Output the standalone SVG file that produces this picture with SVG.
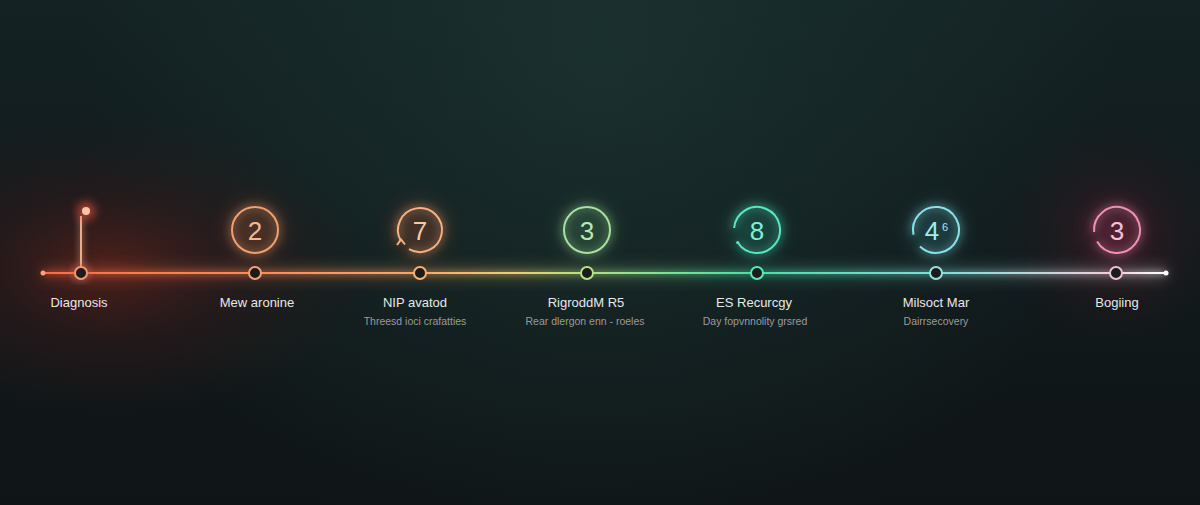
<svg xmlns="http://www.w3.org/2000/svg" width="1200" height="505" viewBox="0 0 1200 505">
<defs>
<linearGradient id="bg" x1="0" y1="0" x2="0" y2="1">
<stop offset="0" stop-color="#142224"/>
<stop offset="0.5" stop-color="#111a1c"/>
<stop offset="1" stop-color="#0f1416"/>
</linearGradient>
<radialGradient id="g-top" cx="600" cy="60" r="520" gradientUnits="userSpaceOnUse">
<stop offset="0" stop-color="#1e3a36" stop-opacity="0.6"/>
<stop offset="1" stop-color="#1e3a36" stop-opacity="0"/>
</radialGradient>
<radialGradient id="g-red" cx="0" cy="0" r="1" gradientUnits="userSpaceOnUse" gradientTransform="translate(110 268) scale(260 150)">
<stop offset="0" stop-color="#6a2418" stop-opacity="0.7"/>
<stop offset="0.5" stop-color="#42181a" stop-opacity="0.35"/>
<stop offset="1" stop-color="#3a1a14" stop-opacity="0"/>
</radialGradient>
<radialGradient id="g-pink" cx="1116" cy="235" r="110" gradientUnits="userSpaceOnUse">
<stop offset="0" stop-color="#4a1c2a" stop-opacity="0.55"/>
<stop offset="1" stop-color="#3a1820" stop-opacity="0"/>
</radialGradient>
<linearGradient id="line" x1="43" y1="0" x2="1166" y2="0" gradientUnits="userSpaceOnUse">
<stop offset="0" stop-color="#ff6a48"/>
<stop offset="0.19" stop-color="#ff8a58"/>
<stop offset="0.33" stop-color="#f8a868"/>
<stop offset="0.42" stop-color="#e8d070"/>
<stop offset="0.49" stop-color="#b0e088"/>
<stop offset="0.63" stop-color="#48e0a8"/>
<stop offset="0.8" stop-color="#80dcd8"/>
<stop offset="0.95" stop-color="#f0d0dc"/>
<stop offset="1" stop-color="#ffffff"/>
</linearGradient>
<filter id="glow" x="-50%" y="-50%" width="200%" height="200%">
<feGaussianBlur in="SourceGraphic" stdDeviation="4" result="b"/>
<feMerge><feMergeNode in="b"/><feMergeNode in="SourceGraphic"/></feMerge>
</filter>
<filter id="lineglow" filterUnits="userSpaceOnUse" x="0" y="150" width="1200" height="200">
<feGaussianBlur in="SourceGraphic" stdDeviation="3" result="b"/>
<feMerge><feMergeNode in="b"/><feMergeNode in="SourceGraphic"/></feMerge>
</filter>
<filter id="wide" filterUnits="userSpaceOnUse" x="0" y="150" width="1200" height="200">
<feGaussianBlur stdDeviation="8"/>
</filter>
<filter id="soft" x="-100%" y="-100%" width="300%" height="300%">
<feGaussianBlur stdDeviation="5"/>
</filter>
<filter id="haze" x="-100%" y="-100%" width="300%" height="300%">
<feGaussianBlur stdDeviation="10"/>
</filter>
</defs>
<style>
.lbl{font-family:"Liberation Sans",Arial,sans-serif;font-size:13px;fill:#e8e8e8;text-anchor:middle}
.sub{font-family:"Liberation Sans",Arial,sans-serif;font-size:10.5px;fill:#9a9c9c;text-anchor:middle}
.num{font-family:"Liberation Sans",Arial,sans-serif;font-size:26px;text-anchor:middle}
.big{fill:none;stroke-width:2}
.dot{fill:#1a1c1c;stroke-width:2}
.halo{opacity:0.22;filter:url(#haze)}
</style>
<rect width="1200" height="505" fill="url(#bg)"/>
<rect width="1200" height="505" fill="url(#g-top)"/>
<rect width="1200" height="505" fill="url(#g-red)"/>
<rect width="1200" height="505" fill="url(#g-pink)"/>

<g id="connectors">
<line x1="43" y1="273" x2="1166" y2="273" stroke="url(#line)" stroke-width="6" opacity="0.5" filter="url(#wide)"/>
<line x1="43" y1="273" x2="1166" y2="273" stroke="url(#line)" stroke-width="2.2" filter="url(#lineglow)"/>
<line x1="81" y1="216" x2="81" y2="267" stroke="#f8b89a" stroke-width="1.8" filter="url(#lineglow)"/>
<circle cx="43" cy="273" r="2.5" fill="#ffa080"/>
<circle cx="1166" cy="273" r="2.5" fill="#ffffff"/>
</g>

<g id="node-1">
<circle cx="86" cy="211" r="9" fill="#ff6040" opacity="0.6" filter="url(#soft)"/>
<circle cx="86" cy="211" r="4" fill="#ffc0a8"/>
<circle class="dot" cx="81" cy="273" r="6" stroke="#ff9070" filter="url(#glow)"/>
<text class="lbl" x="79" y="307">Diagnosis</text>
</g>

<g id="node-2">
<circle class="halo" cx="255" cy="230" r="28" fill="#e07040"/>
<circle class="big" cx="255" cy="230" r="23" stroke="#f0a070" filter="url(#glow)"/>
<text class="num" x="255" y="240" fill="#f4b890">2</text>
<circle class="dot" cx="255" cy="273" r="6" stroke="#f8a070"/>
<text class="lbl" x="257" y="307">Mew aronine</text>
</g>

<g id="node-3">
<circle class="halo" cx="420" cy="230" r="28" fill="#e06030"/>
<path class="big" d="M409,249.1 A22,22 0 1 0 400.9,241" stroke="#f8b080" filter="url(#glow)"/>
<path d="M397,245 L401,239.5 L405,244.5" fill="none" stroke="#f8b080" stroke-width="2"/>
<text class="num" x="420" y="240" fill="#f8c8a8">7</text>
<circle class="dot" cx="420" cy="273" r="6" stroke="#f8b070"/>
<text class="lbl" x="415" y="307">NIP avatod</text>
<text class="sub" x="415" y="325">Threesd ioci crafatties</text>
</g>

<g id="node-4">
<circle class="halo" cx="587" cy="230" r="27" fill="#60b070"/>
<circle class="big" cx="587" cy="230" r="23" stroke="#a8e0a0" filter="url(#glow)"/>
<text class="num" x="587" y="240" fill="#b8e8b0">3</text>
<circle class="dot" cx="587" cy="273" r="6" stroke="#b8e088"/>
<text class="lbl" x="586" y="307">RigroddM R5</text>
<text class="sub" x="585" y="325">Rear dlergon enn - roeles</text>
</g>

<g id="node-5">
<circle class="halo" cx="757" cy="230" r="27" fill="#20b090"/>
<path class="big" d="M734.1,228 A23,23 0 1 1 737.7,242.5" stroke="#58e8c0" filter="url(#glow)"/>
<circle cx="737.7" cy="242.5" r="1.6" fill="#58e8c0"/>
<text class="num" x="757" y="240" fill="#80f0d0">8</text>
<circle class="dot" cx="757" cy="273" r="6" stroke="#58e8b8"/>
<text class="lbl" x="754" y="307">ES Recurcgy</text>
<text class="sub" x="755" y="325">Day fopvnnolity grsred</text>
</g>

<g id="node-6">
<circle class="halo" cx="936" cy="230" r="27" fill="#40a0a8"/>
<path class="big" d="M920,246.5 A23,23 0 1 0 913.5,234.8" stroke="#88e0e8" filter="url(#glow)"/>
<text class="num" x="932" y="240" fill="#a0eaf0">4</text>
<text x="945" y="231" font-family="Liberation Sans,Arial,sans-serif" font-size="11" fill="#a0eaf0" text-anchor="middle">6</text>
<circle class="dot" cx="936" cy="273" r="6" stroke="#98e0e0"/>
<text class="lbl" x="936" y="307">Milsoct Mar</text>
<text class="sub" x="936" y="325">Dairrsecovery</text>
</g>

<g id="node-7">
<circle class="halo" cx="1116" cy="230" r="28" fill="#c03868"/>
<path class="big" d="M1094.1,232 A23,23 0 1 1 1097.1,241.5" stroke="#f090b0" filter="url(#glow)"/>
<text class="num" x="1117" y="240" fill="#f8c0d0">3</text>
<circle class="dot" cx="1116" cy="273" r="6" stroke="#f0c0d0"/>
<text class="lbl" x="1117" y="307">Bogiing</text>
</g>
</svg>
